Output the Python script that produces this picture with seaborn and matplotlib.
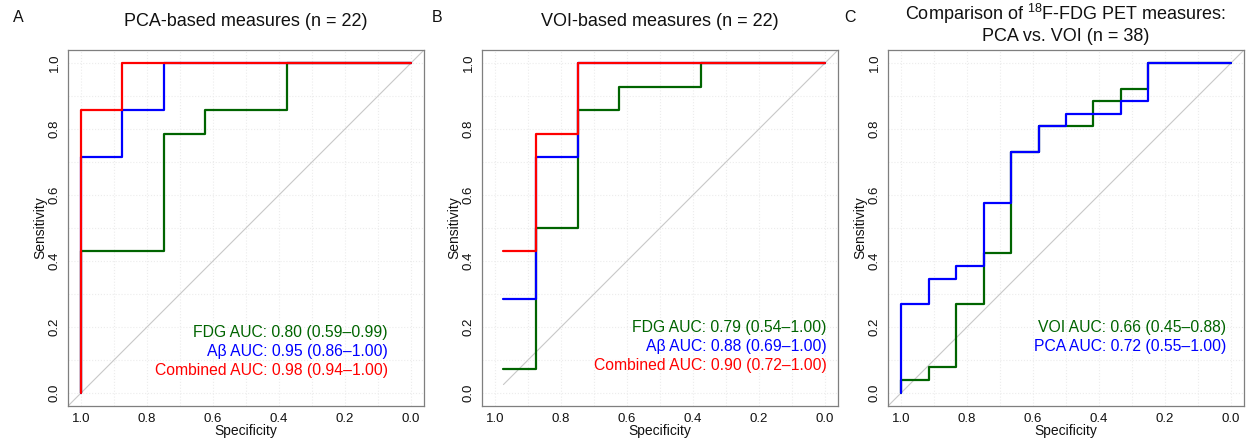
import numpy as np
import pandas as pd
import matplotlib
matplotlib.use("Agg")
import matplotlib.pyplot as plt
import seaborn as sns

sns.set_theme(style="white")
plt.rcParams['font.family'] = ['Liberation Sans', 'DejaVu Sans']
plt.rcParams['mathtext.default'] = 'regular'

# ---------------- data (ROC step vertices: specificity, sensitivity) ----------------
# Panel A: PCA-based measures
a_fdg_spec = [1.0, 0.75, 0.625, 0.375, 0.0]
a_fdg_sens = [0.0, 0.429, 0.786, 0.857, 1.0]
a_ab_spec = [1.0, 0.875, 0.75, 0.0]
a_ab_sens = [0.0, 0.714, 0.857, 1.0]
a_comb_spec = [1.0, 0.875, 0.0]
a_comb_sens = [0.0, 0.857, 1.0]

# Panel B: VOI-based measures
b_fdg_spec = [0.975, 0.875, 0.75, 0.625, 0.375, 0.0]
b_fdg_sens = [0.071, 0.071, 0.5, 0.857, 0.929, 1.0]
b_ab_spec = [0.975, 0.875, 0.75, 0.0]
b_ab_sens = [0.286, 0.286, 0.714, 1.0]
b_comb_spec = [0.975, 0.875, 0.75, 0.0]
b_comb_sens = [0.429, 0.429, 0.786, 1.0]

# Panel C: PCA vs VOI
c_voi_spec = [1.0, 0.917, 0.833, 0.75, 0.667, 0.583, 0.417, 0.333, 0.25, 0.0]
c_voi_sens = [0.0, 0.038, 0.077, 0.269, 0.423, 0.731, 0.808, 0.885, 0.923, 1.0]
c_pca_spec = [1.0, 0.917, 0.833, 0.75, 0.667, 0.583, 0.5, 0.333, 0.25, 0.0]
c_pca_sens = [0.0, 0.269, 0.346, 0.385, 0.577, 0.731, 0.808, 0.846, 0.885, 1.0]

a_labels = ["FDG AUC: 0.80 (0.59\u20130.99)", "A\u03b2 AUC: 0.95 (0.86\u20131.00)",
            "Combined AUC: 0.98 (0.94\u20131.00)"]
b_labels = ["FDG AUC: 0.79 (0.54\u20131.00)", "A\u03b2 AUC: 0.88 (0.69\u20131.00)",
            "Combined AUC: 0.90 (0.72\u20131.00)"]
c_labels = ["VOI AUC: 0.66 (0.45\u20130.88)", "PCA AUC: 0.72 (0.55\u20131.00)"]

titles = ["PCA-based measures (n = 22)", "VOI-based measures (n = 22)",
          "Comparison of $^{18}$F-FDG PET measures:\nPCA vs. VOI (n = 38)"]
panel_letters = ["A", "B", "C"]
tick_vals = [0.0, 0.2, 0.4, 0.6, 0.8, 1.0]
b_diag_start = 0.975

GREEN, BLUE, RED = "#006400", "#0000ff", "#ff0000"


def make_df(curves):
    frames = []
    for name, sp, se in curves:
        frames.append(pd.DataFrame({"spec": sp, "sens": se, "measure": name}))
    return pd.concat(frames, ignore_index=True)


panels = [
    (make_df([("FDG", a_fdg_spec, a_fdg_sens), ("Ab", a_ab_spec, a_ab_sens),
              ("Comb", a_comb_spec, a_comb_sens)]),
     ["FDG", "Ab", "Comb"], [GREEN, BLUE, RED], a_labels, 0.07, 0.183),
    (make_df([("FDG", b_fdg_spec, b_fdg_sens), ("Ab", b_ab_spec, b_ab_sens),
              ("Comb", b_comb_spec, b_comb_sens)]),
     ["FDG", "Ab", "Comb"], [GREEN, BLUE, RED], b_labels, -0.005, 0.198),
    (make_df([("VOI", c_voi_spec, c_voi_sens), ("PCA", c_pca_spec, c_pca_sens)]),
     ["VOI", "PCA"], [GREEN, BLUE], c_labels, 0.014, 0.198),
]

W, H = 1249, 442
fig = plt.figure(figsize=(W / 100, H / 100), dpi=100)
lefts = [68, 482, 888]
letter_x = [18, 437, 850]
box_w, box_top, box_bot = 356, 50, 406
GRAY = "#7f7f7f"

for i, (df, order, cols, labels, tx, ty) in enumerate(panels):
    ax = fig.add_axes([lefts[i] / W, (H - box_bot) / H, box_w / W, (box_bot - box_top) / H])
    ax.set_xlim(1.04, -0.04)
    ax.set_ylim(-0.04, 1.04)
    ax.set_xticks(np.arange(0, 1.01, 0.1), minor=True)
    ax.set_yticks(np.arange(0, 1.01, 0.1), minor=True)
    ax.grid(True, which="both", color="#ececec", linestyle=":", linewidth=0.8)
    if i == 1:
        ax.plot([b_diag_start, -0.04], [1 - b_diag_start, 1.04], color="#c8c8c8", lw=0.8)
    else:
        ax.plot([1.04, -0.04], [-0.04, 1.04], color="#c8c8c8", lw=0.8)
    sns.lineplot(data=df, x="spec", y="sens", hue="measure", hue_order=order,
                 palette=cols, sort=False, estimator=None, drawstyle="steps-pre",
                 linewidth=1.6, legend=False, ax=ax)
    ax.set_xticks(tick_vals)
    ax.set_yticks(tick_vals)
    ax.set_xticklabels([f"{v:.1f}" for v in tick_vals], fontsize=9.5)
    ax.set_yticklabels([f"{v:.1f}" for v in tick_vals], fontsize=9.5, rotation=90, va="center")
    ax.tick_params(axis="both", which="major", length=3.6, width=0.8, color=GRAY, pad=1.5,
                   labelcolor="#111111")
    ax.tick_params(axis="both", which="minor", length=0)
    for s in ax.spines.values():
        s.set_color(GRAY)
        s.set_linewidth(0.9)
    ax.set_xlabel("Specificity", fontsize=10, labelpad=-1, color="#111111")
    ax.set_ylabel("Sensitivity", fontsize=10, labelpad=1, color="#111111")
    for k, (lab, c) in enumerate(zip(labels, cols)):
        ax.text(tx, ty - k * 0.057, lab, color=c, fontsize=11.3, ha="right", va="center")
    cx = (lefts[i] + box_w / 2) / W
    if i < 2:
        fig.text(cx, 1 - 21 / H, titles[i], ha="center", va="center", fontsize=13, color="#111111")
    else:
        fig.text(cx, 1 - 23 / H, titles[i], ha="center", va="center", fontsize=13,
                 color="#111111", linespacing=1.15)
    fig.text(letter_x[i] / W, 1 - 17 / H, panel_letters[i], ha="center", va="center",
             fontsize=11.5, color="#111111")

fig.savefig("out.png", dpi=100, facecolor="white")
